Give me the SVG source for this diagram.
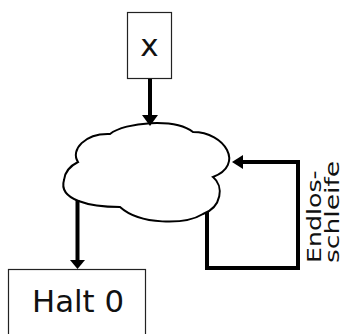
<svg xmlns="http://www.w3.org/2000/svg" width="344" height="334" viewBox="0 0 344 334">
<style>
.box{fill:#fff;stroke:#222;stroke-width:1.2}
.cloud{fill:#fff;stroke:#000;stroke-width:2}
.conn{fill:none;stroke:#000;stroke-width:4}
.head{fill:#000}
text{font-family:"DejaVu Sans","Liberation Sans",sans-serif;fill:#111}
</style>
<g id="node-x">
<rect class="box" x="127.5" y="12.5" width="44" height="66"/>
<text x="149.5" y="56" font-size="31" text-anchor="middle">x</text>
</g>
<g id="node-cloud">
<path class="cloud" d="M110,134 C125,122 175,118 193,132 C225,132 245,165 213,177 C224,186 222,207 203,214 C185,225 140,225 120,207 C90,207 58,200 64,180 C65,170 72,165 78,162 C70,150 85,133 110,134 Z"/>
</g>
<g id="node-halt">
<rect class="box" x="8.5" y="269.5" width="137" height="80"/>
<text x="32" y="312" font-size="30" textLength="92" lengthAdjust="spacingAndGlyphs">Halt 0</text>
</g>
<g id="label-loop">
<text transform="translate(321,263) rotate(-90) scale(1.33,1)" font-size="19">Endlos-</text>
<text transform="translate(339,263) rotate(-90) scale(1.4,1)" font-size="19">schleife</text>
</g>
<g id="connectors">
<line class="conn" x1="150" y1="79" x2="150" y2="116"/>
<polygon class="head" points="142,115 158,115 150,126"/>
<line class="conn" x1="77.5" y1="200" x2="77.5" y2="262"/>
<polygon class="head" points="70,260 85,260 77.5,269"/>
<polyline class="conn" points="207,212 207,268 298,268 298,162 240,162"/>
<polygon class="head" points="243,155 243,169 232,162"/>
</g>
</svg>
